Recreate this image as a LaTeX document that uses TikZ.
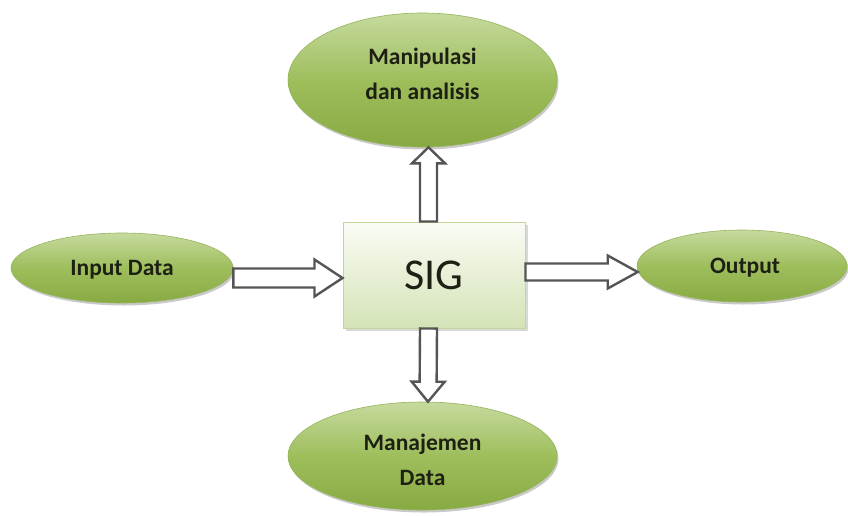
\documentclass[tikz,border=0pt]{standalone}
\usepackage{fontspec}
\setmainfont{Carlito}
\usetikzlibrary{shapes.geometric,calc,shadows}
\definecolor{gtop}{RGB}{198,218,158}
\definecolor{gmid}{RGB}{158,190,92}
\definecolor{gbot}{RGB}{136,170,66}
\definecolor{gedge}{RGB}{150,180,90}
\definecolor{btop}{RGB}{250,252,245}
\definecolor{bbot}{RGB}{212,227,182}
\definecolor{bedge}{RGB}{195,214,155}
\definecolor{txt}{RGB}{30,32,20}
\definecolor{arr}{RGB}{85,85,85}
\tikzset{
  oval/.style={ellipse, inner sep=0pt, draw=gedge, line width=0.6pt,
    top color=gtop, bottom color=gbot, middle color=gmid,
    drop shadow={opacity=0.35, shadow xshift=1.5pt, shadow yshift=-2.5pt, fill=black!60}},
  lbl/.style={inner sep=0pt, text=txt, align=center, font=\bfseries\fontsize{23.5}{35}\selectfont},
  sigbox/.style={rectangle, inner sep=0pt, draw=bedge, line width=1pt,
    top color=btop, bottom color=bbot,
    drop shadow={opacity=0.3, shadow xshift=2.5pt, shadow yshift=-3pt, fill=black!50},
    text=txt, font=\fontsize{44}{50}\selectfont},
  barrow/.style={draw=arr, line width=2.4pt, fill=white, line join=miter}
}
\newcommand\blockarrow[5]{%
  \draw[barrow] ($(#1)!#3!-90:(#2)$) -- ($(#2)!#5!(#1)!#3!90:(#1)$)
    -- ($(#2)!#5!(#1)!#4!90:(#1)$) -- (#2)
    -- ($(#2)!#5!(#1)!#4!-90:(#1)$) -- ($(#2)!#5!(#1)!#3!-90:(#1)$)
    -- ($(#1)!#3!90:(#2)$) -- cycle;}
\begin{document}
\begin{tikzpicture}[x=1pt,y=-1pt]
\useasboundingbox (0,0) rectangle (848,515);
\fill[white] (0,0) rectangle (848,515);
\node[oval, minimum width=269pt, minimum height=134pt] (top) at (422.5,80) {};
\node[oval, minimum width=222pt, minimum height=70pt] (in) at (122,268) {};
\node[oval, minimum width=210pt, minimum height=72pt] (out) at (742,266) {};
\node[oval, minimum width=269pt, minimum height=108pt] (bot) at (422.5,456) {};
\node[lbl] (toptxt) at ([yshift=6pt]top.center) {Manipulasi\\dan analisis};
\node[lbl] (intxt) at ([yshift=-2pt]in.center) {Input Data};
\node[lbl] (outtxt) at ([yshift=-2pt,xshift=3pt]out.center) {Output};
\node[lbl] (bottxt) at ([yshift=-4pt]bot.center) {Manajemen\\Data};
\node[sigbox, minimum width=182pt, minimum height=106pt] (sig) at (434,275) {SIG};
\coordinate (la) at ([yshift=-10pt]in.east);
\coordinate (lb) at ([yshift=-3pt]sig.west);
\coordinate (ra) at ([yshift=3pt]sig.east);
\coordinate (rb) at ([yshift=-6pt,xshift=1pt]out.west);
\coordinate (ua) at ([xshift=-5.5pt]sig.north);
\coordinate (ub) at ([xshift=6pt]top.south);
\coordinate (da) at ([xshift=-5.5pt]sig.south);
\coordinate (db) at ([xshift=5.5pt]bot.north);
\blockarrow{la}{lb}{9.5pt}{18.5pt}{28pt}
\blockarrow{ra}{rb}{8.5pt}{16.5pt}{30pt}
\blockarrow{ua}{ub}{8.5pt}{16.5pt}{16pt}
\blockarrow{da}{db}{8.5pt}{16.5pt}{20pt}
\end{tikzpicture}
\end{document}
